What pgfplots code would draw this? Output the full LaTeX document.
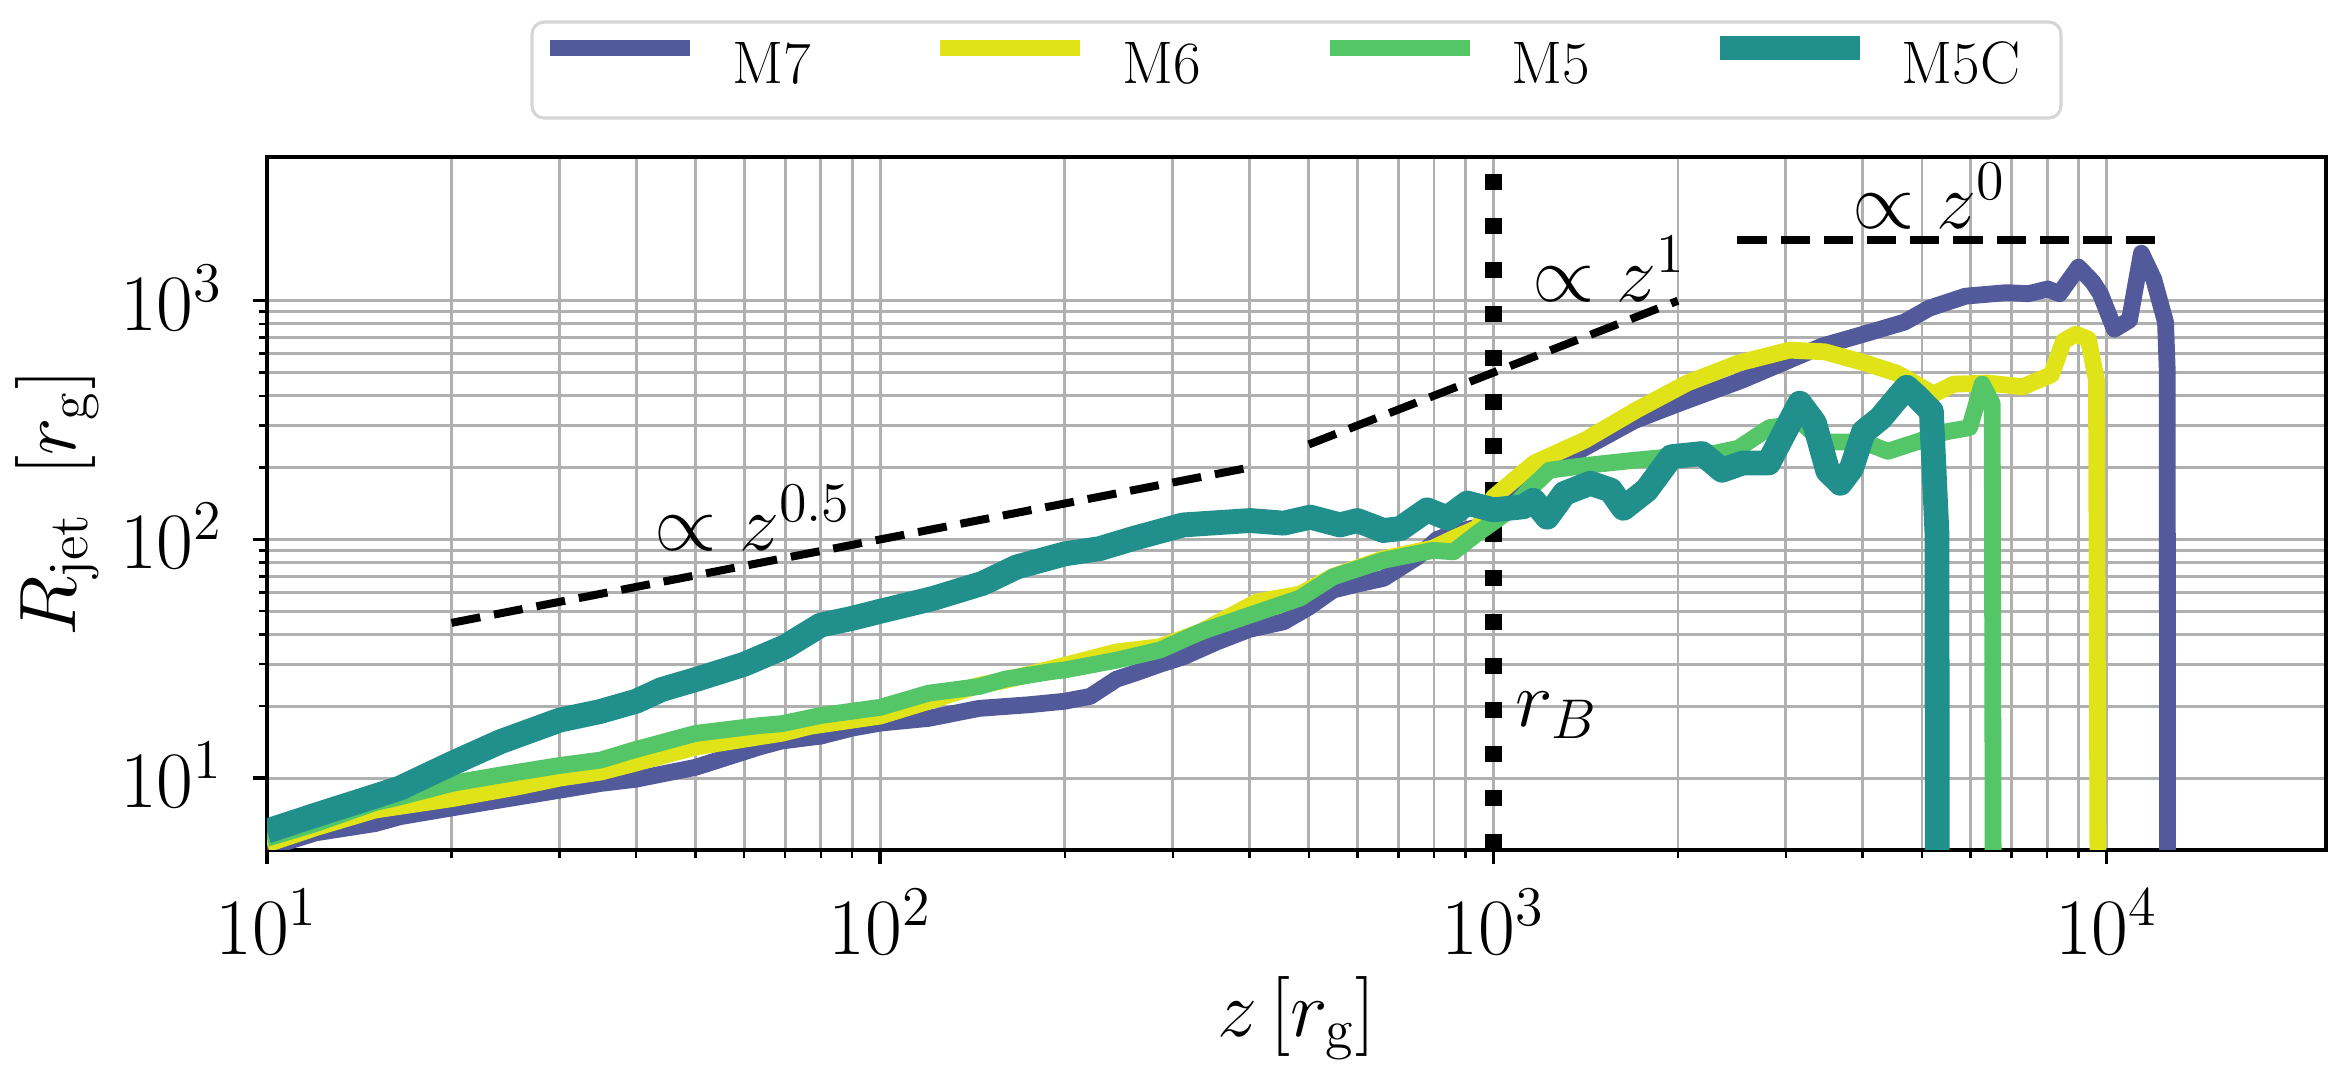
\RequirePackage{fix-cm}
\documentclass[border=0pt]{standalone}
\usepackage{pgfplots}
\pgfplotsset{compat=1.18}
\definecolor{cMseven}{RGB}{83,90,155}
\definecolor{cMsix}{RGB}{223,227,24}
\definecolor{cMfive}{RGB}{85,198,104}
\definecolor{cMfiveC}{RGB}{33,144,140}
\definecolor{gridgray}{RGB}{176,176,176}
\definecolor{legendgray}{RGB}{214,214,214}
\begin{document}
\begin{tikzpicture}
\begin{axis}[
  at={(0,0)}, anchor=south west,
  scale only axis, width=514.75pt, height=173.25pt,
  xmode=log, ymode=log,
  xmin=10, xmax=22800, ymin=5, ymax=4000,
  xtick={10,100,1000,10000}, ytick={10,100,1000},
  grid=both,
  major grid style={color=gridgray, line width=0.72pt},
  minor grid style={color=gridgray, line width=0.72pt},
  axis line style={line width=0.85pt},
  tick align=outside,
  xtick pos=bottom, ytick pos=left,
  major tick length=3.6pt, minor tick length=2.1pt,
  every major tick/.append style={line width=0.85pt, black},
  every minor tick/.append style={line width=0.6pt, black},
  tick label style={font=\fontsize{20}{24}\selectfont},
  xticklabel style={anchor=base, yshift=-22.5pt},
  yticklabel style={anchor=base east, inner sep=0pt, xshift=-7.2pt, yshift=-7.35pt},
  label style={font=\fontsize{20}{24}\selectfont},
  xlabel={$z\,[r_{\mathrm{g}}]$},
  ylabel={$R_{\mathrm{jet}}\ \,[r_{\mathrm{g}}]$},
  xlabel style={at={(axis description cs:0.5,-0.2698)}, anchor=base},
  ylabel style={at={(axis description cs:-0.0932,0.5)}, anchor=base},
  legend columns=4,
  legend cell align=left,
  legend image code/.code={\path[draw=none,fill=none] (0pt,0pt) -- (35pt,0pt); \draw[#1, overlay] (0pt,5.5pt) -- (35pt,5.5pt);},
  legend style={at={(0.5,1.1255)}, anchor=center, draw=legendgray, line width=0.8pt,
    rounded corners=3pt, inner xsep=4.5pt, inner ysep=5pt,
    font=\fontsize{15}{18}\selectfont,
    nodes={inner sep=0pt, text height=10.25pt, text depth=3.75pt},
    /tikz/every odd column/.append style={column sep=10.5pt},
    /tikz/every even column/.append style={column sep=32.35pt}},
]
% reference lines
\addplot[black, line width=2pt, dash pattern=on 7.3pt off 3.5pt, forget plot] coordinates {(20,44.72) (400,200)};
\addplot[black, line width=2pt, dash pattern=on 7.3pt off 3.5pt, forget plot] coordinates {(500,250) (2000,1000)};
\addplot[black, line width=2pt, dash pattern=on 7.3pt off 3.5pt, forget plot] coordinates {(2500,1800) (12000,1800)};
\addplot[black, line width=4.1pt, dash pattern=on 3.9pt off 7.1pt, forget plot] coordinates {(1000,5) (1000,4000)};

\addplot[cMseven, line width=4.2pt, line join=round] coordinates {
(10,5.1) (12,5.9) (15,6.45) (16.5,6.9) (20,7.5) (24,8.1) (30,8.9) (35,9.5) (40,9.9) (50,11.1) (63.5,13.5) (69,14.3) (80,15) (90,16.2) (100,17) (120,17.8) (145,19.6) (175,20.3) (200,21) (220,22) (243,26) (260,27.5) (286,30) (312,32.2) (354,37.2) (400,42) (455,45.2) (500,52) (548,61.4) (600,65) (662,68.7) (752,84.5) (810,100) (870,107) (944,113) (1000,125) (1100,150) (1200,185) (1400,240) (1700,315) (2000,370) (2200,405) (2540,464) (2960,548) (3440,646) (4014,724) (4680,813) (5140,931) (5890,1045) (6870,1081) (7460,1070) (8020,1120) (8380,1070) (9000,1383) (9490,1200) (9770,1070) (10300,760) (10900,830) (11400,1580) (11940,1230) (12480,813) (12560,512) (12580,1)
};
\addlegendentry{M7}
\addplot[cMsix, line width=4.2pt, line join=round] coordinates {
(10,5.3) (12,6.2) (15,7.35) (20,8.2) (25.7,9.2) (30,10) (35,10.6) (39.6,11.5) (50,13.5) (63.5,14.9) (69,15.4) (77,16.5) (100,18.2) (120,21) (145,24.5) (160,25.7) (200,29.7) (243,33.8) (286,35.5) (333,41) (412,54.8) (484,59) (548,70) (662,83) (798,92) (861,101) (944,112) (1000,150) (1166,209) (1412,261) (1710,348) (2070,452) (2510,548) (3040,621) (3470,611) (4045,548) (4540,498) (4680,478) (5220,406) (5630,447) (6400,452) (7300,436) (8130,490) (8510,678) (8910,724) (9340,690) (9630,464) (9700,1)
};
\addlegendentry{M6}
\addplot[cMfive, line width=4.2pt, line join=round] coordinates {
(10,5.6) (12,6.45) (15,7.9) (16.5,8.35) (20,9.5) (24,10.3) (30,11.3) (35,11.9) (39.6,13.1) (50,15.4) (63.5,16.6) (69,16.9) (80,18.3) (100,19.8) (120,22.7) (145,24.2) (160,26) (189,27.9) (200,28.4) (243,31.2) (286,34.4) (333,41) (401,48.2) (484,56.8) (548,69.7) (662,81.8) (798,90) (861,88.7) (941,106) (1067,133) (1142,161) (1234,195) (1412,204) (1710,215) (1950,222) (2178,223) (2510,241) (2820,294) (3190,307) (3440,256) (4014,256) (4400,234) (4900,256) (5460,282) (5980,294) (6270,447) (6510,371) (6540,1)
};
\addlegendentry{M5}
\addplot[cMfiveC, line width=6.2pt, line join=round] coordinates {
(10,6.0) (12,7.0) (15,8.4) (16.5,9.1) (20,11.5) (24,14.2) (30,17.5) (34.9,19) (40,21) (44,23.5) (50.8,26.2) (60,30) (70,35.5) (80,43.8) (90,46.7) (100,50) (122,56.6) (147,65.5) (167,76.7) (200,87) (228,91.5) (259,101) (312,115) (401,120) (455,117) (503,124) (562,115) (600,120) (662,109) (705,111) (780,133) (841,123) (907,142) (1000,133) (1119,137) (1162,146) (1224,124) (1306,156) (1440,172) (1553,161) (1630,135) (1778,161) (1950,222) (2190,229) (2360,195) (2550,209) (2810,209) (3160,372) (3340,307) (3510,194) (3680,172) (3840,199) (4014,282) (4280,322) (4480,371) (4720,434) (4900,398) (5180,344) (5290,106) (5300,1)
};
\addlegendentry{M5C\hspace*{5.6pt}}

\node[anchor=base, font=\fontsize{20}{24}\selectfont] at (axis cs:62,90) {$\propto z^{0.5}$};
\node[anchor=base, font=\fontsize{20}{24}\selectfont] at (axis cs:1545,990) {$\propto z^{1}$};
\node[anchor=base, font=\fontsize{20}{24}\selectfont] at (axis cs:5140,2000) {$\propto z^{0}$};
\node[anchor=base west, inner sep=0pt, font=\fontsize{20}{24}\selectfont] at (axis cs:1085,16.5) {$r_B$};
\end{axis}
\pgfresetboundingbox
\path[use as bounding box] (-66.75pt,-57.25pt) rectangle (518.25pt,212.5pt);
\end{tikzpicture}
\end{document}
